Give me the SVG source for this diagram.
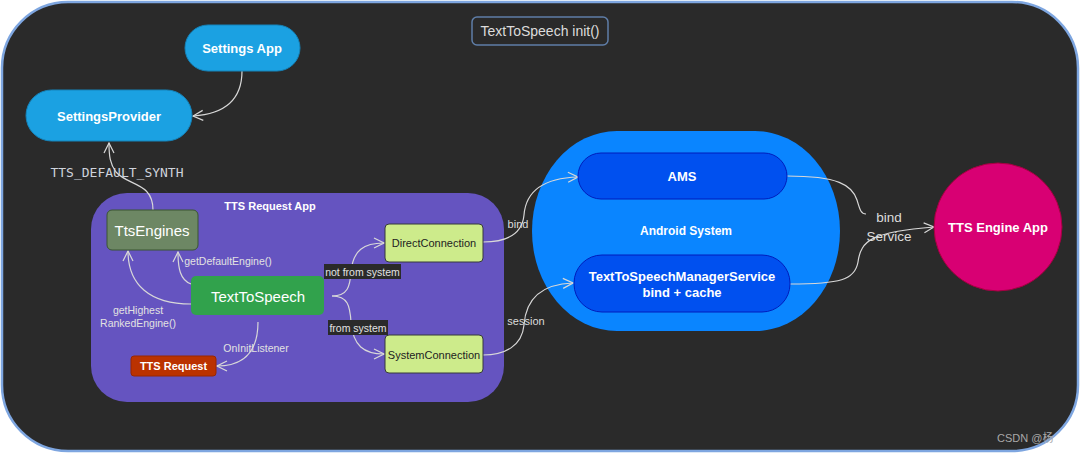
<svg xmlns="http://www.w3.org/2000/svg" width="1080" height="454" viewBox="0 0 1080 454">
<style>
.t{font-family:"Liberation Sans",Arial,sans-serif;text-anchor:middle;dominant-baseline:central}
.b{font-weight:bold;fill:#fff;font-size:13px}
.lbl{fill:#e2e2e2;font-size:10.5px}
.e{fill:none;stroke:#d8d8d8;stroke-width:1.2}
.pill{fill:#1ba1e2;stroke:#1584bb}
.blue{fill:#0050ef;stroke:#001dbc}
.lime{fill:#cdeb8b;stroke:#36393d;stroke-width:1}
</style>
<defs>
<marker id="arr" viewBox="0 0 12 12" refX="11" refY="6" markerWidth="12" markerHeight="12" markerUnits="userSpaceOnUse" orient="auto">
<path d="M1,1 L11,6 L1,11" fill="none" stroke="#d8d8d8" stroke-width="1.2"/>
</marker>
</defs>
<rect x="0" y="0" width="1080" height="454" fill="#fff"/>
<rect id="canvas" x="2" y="2" width="1076" height="449" rx="66" ry="66" fill="#2a2a2a" stroke="#7ea6e0" stroke-width="2.5"/>

<g id="title">
<rect x="472" y="17" width="136" height="28" rx="5" fill="none" stroke="#5f7ea8" stroke-width="1.5"/>
<text class="t" x="540" y="31" fill="#dcdcdc" font-size="14">TextToSpeech init()</text>
</g>

<g id="tts-request-app">
<rect x="91" y="193" width="413" height="209" rx="36" fill="#6554c0"/>
<text class="t" x="270" y="206" fill="#fff" font-weight="bold" font-size="11">TTS Request App</text>
</g>

<g id="android-system">
<rect x="532" y="131" width="308" height="200" rx="85" ry="100" fill="#0a85ff"/>
<text class="t" x="686" y="231" fill="#fff" font-weight="bold" font-size="12">Android System</text>
</g>

<g id="connectors">
<path class="e" d="M242,71 C242,100 225,114 193,116" marker-end="url(#arr)"/>
<path class="e" d="M153,210 C153,182 128,186 116,172 C110,164 109,156 109,143" marker-end="url(#arr)"/>
<path class="e" d="M191,284 C180,280 178,268 178,252" marker-end="url(#arr)"/>
<path class="e" d="M191,304 C150,304 128,285 128,251" marker-end="url(#arr)"/>
<path class="e" d="M258,322 C258,350 245,366 217,366" marker-end="url(#arr)"/>
<path class="e" d="M332,296 C348,296 350,286 351,272 C353,250 364,243 384,243" marker-end="url(#arr)"/>
<path class="e" d="M332,296 C348,296 350,306 351,322 C353,346 364,354 384,354" marker-end="url(#arr)"/>
<path class="e" d="M483,242 C505,242 522,236 524,215 C526,190 545,178 578,177" marker-end="url(#arr)"/>
<path class="e" d="M483,355 C505,355 522,346 524,325 C526,296 545,284 573,283" marker-end="url(#arr)"/>
<path class="e" d="M787,176 C838,176 852,185 857,200 C860,210 861,214 866,214"/>
<path class="e" d="M790,284 C840,284 855,280 858,262 C861,240 872,232 934,227" marker-end="url(#arr)"/>
</g>

<g id="edge-labels">
<text x="117" y="172" fill="#cfd3dc" font-family="DejaVu Sans Mono,monospace" font-size="13" text-anchor="middle" dominant-baseline="central">TTS_DEFAULT_SYNTH</text>
<text class="t lbl" x="228" y="261">getDefaultEngine()</text>
<text class="t lbl" x="138" y="310">getHighest</text>
<text class="t lbl" x="138" y="323">RankedEngine()</text>
<text class="t lbl" x="256" y="348">OnInitListener</text>
<rect x="324" y="264" width="77" height="15" fill="#2a2a2a"/>
<text class="t lbl" x="362.5" y="271.5">not from system</text>
<rect x="328" y="320" width="60" height="15" fill="#2a2a2a"/>
<text class="t lbl" x="358" y="327.5">from system</text>
<text class="t" x="518" y="224" fill="#dcdcdc" font-size="11">bind</text>
<text class="t" x="526" y="321" fill="#dcdcdc" font-size="11">session</text>
<text class="t" x="889" y="217" fill="#dcdcdc" font-size="13.5">bind</text>
<text class="t" x="889" y="236" fill="#dcdcdc" font-size="13.5">Service</text>
</g>

<g id="settings-app">
<rect class="pill" x="185" y="25" width="115" height="46" rx="23"/>
<text class="t b" x="242" y="48">Settings App</text>
</g>

<g id="settings-provider">
<rect class="pill" x="26" y="90" width="166" height="51" rx="25.5"/>
<text class="t b" x="109" y="116">SettingsProvider</text>
</g>

<g id="tts-engines">
<rect x="107" y="210" width="91" height="40" rx="5" fill="#6d8764" stroke="#3a5431"/>
<text class="t" x="152" y="230" fill="#fff" font-size="15">TtsEngines</text>
</g>

<g id="text-to-speech">
<rect x="191" y="276" width="133" height="39" rx="5" fill="#31a24c"/>
<text class="t" x="258" y="296" fill="#fff" font-size="15">TextToSpeech</text>
</g>

<g id="tts-request">
<rect x="131" y="356" width="85" height="20" rx="3" fill="#bb3200" stroke="#9a2600"/>
<text class="t" x="173.5" y="366" fill="#fff" font-weight="bold" font-size="11">TTS Request</text>
</g>

<g id="direct-connection">
<rect class="lime" x="385" y="224" width="98" height="38" rx="4"/>
<text class="t" x="434" y="243" fill="#222" font-size="11">DirectConnection</text>
</g>

<g id="system-connection">
<rect class="lime" x="385" y="335" width="98" height="38" rx="4"/>
<text class="t" x="434" y="355" fill="#222" font-size="11">SystemConnection</text>
</g>

<g id="ams">
<rect class="blue" x="578" y="153" width="209" height="46" rx="23"/>
<text class="t b" x="682" y="176">AMS</text>
</g>

<g id="tts-manager-service">
<rect class="blue" x="574" y="255" width="216" height="57" rx="28"/>
<text class="t b" x="682" y="276">TextToSpeechManagerService</text>
<text class="t b" x="682" y="292">bind + cache</text>
</g>

<g id="tts-engine-app">
<circle cx="998" cy="227" r="64" fill="#d80073" stroke="#a50040"/>
<text class="t b" x="998" y="227">TTS Engine App</text>
</g>

<text x="997" y="438" fill="#a8a8a8" font-family="Liberation Sans,Noto Sans CJK SC,sans-serif" font-size="11" dominant-baseline="central">CSDN @杨</text>
</svg>
